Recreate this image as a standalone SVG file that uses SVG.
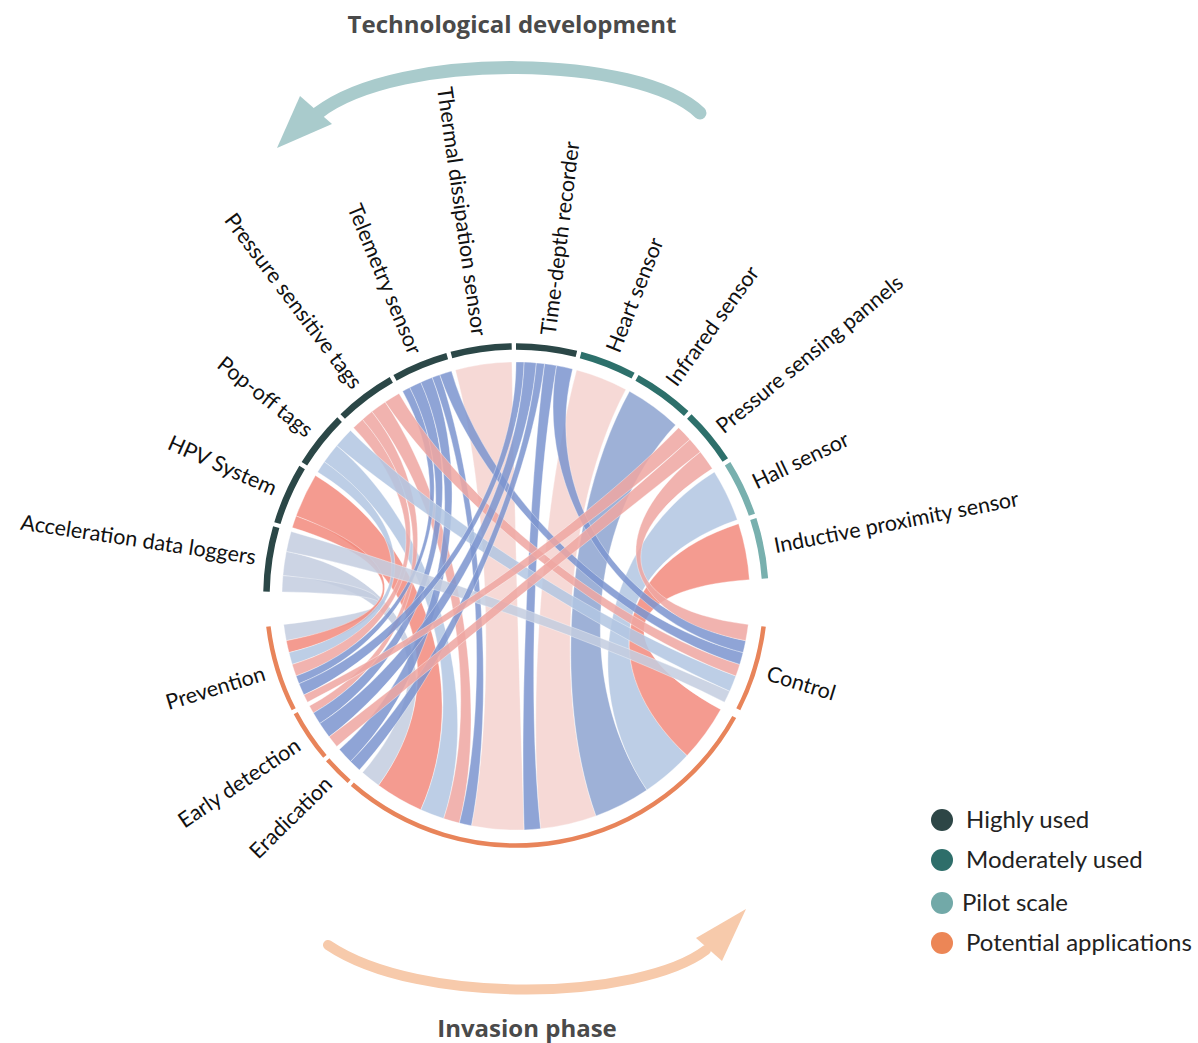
<svg xmlns="http://www.w3.org/2000/svg" width="1198" height="1043" viewBox="0 0 1198 1043">
<style>
.rib{stroke:#fff;stroke-width:0.6;stroke-opacity:0.6;fill-opacity:0.86}
.gr{fill:#c4cde0}.sa{fill:#f28b7e}.pk{fill:#efa7a2}.lb{fill:#b2c6e2}.bl{fill:#7d95cf}.st{fill:#8ea4d0}.lp{fill:#f4d3cf}
.ru{fill:none;stroke-width:6.5}
.hi{stroke:#2b4747}.mo{stroke:#2d706b}.pi{stroke:#78b0ae}
.rl{fill:none;stroke:#e8845a;stroke-width:4.5}
.lbl{font-family:Lato,"Open Sans",sans-serif;font-size:21.5px;fill:#111}
.leg{font-family:Lato,"Open Sans",sans-serif;font-size:24px;fill:#222}
.ttl{font-family:"Open Sans",Lato,sans-serif;font-size:24px;font-weight:700;fill:#4a4a4a}
</style>
<rect width="1198" height="1043" fill="#fff"/>
<g id="title-top"><text class="ttl" x="512" y="33" text-anchor="middle">Technological development</text></g>
<g id="arrow-top">
<path d="M700,113 C640,55 400,50 318,113" fill="none" stroke="#a9cbcc" stroke-width="13" stroke-linecap="round"/>
<polygon points="277,148 300,96 332,124" fill="#a9cbcc"/>
</g>
<g id="connectors">
<path class="rib lp" d="M455.4,370.0 A234,234 0 0 1 511.9,362.0 C514.2,490.7 519.7,701.2 524.2,829.9 A234,234 0 0 1 471.4,825.7 C495.9,699.4 488.7,494.3 455.4,370.0Z"/>
<path class="rib lp" d="M576.6,370.0 A234,234 0 0 1 625.9,389.4 C565.4,503.0 552.0,695.0 596.0,815.9 A234,234 0 0 1 540.5,828.7 C527.0,700.7 543.3,494.3 576.6,370.0Z"/>
<path class="rib st" d="M629.5,391.3 A234,234 0 0 1 675.6,424.9 C587.8,519.0 574.9,683.3 646.9,790.0 A234,234 0 0 1 596.0,815.9 C552.0,695.0 567.1,503.9 629.5,391.3Z"/>
<path class="rib lb" d="M714.4,472.0 A234,234 0 0 1 737.3,519.8 C615.6,561.7 593.0,667.8 687.1,755.6 A234,234 0 0 1 646.9,790.0 C574.9,683.3 605.3,540.2 714.4,472.0Z"/>
<path class="rib sa" d="M738.6,523.7 A234,234 0 0 1 749.4,579.7 C621.0,588.7 608.1,647.1 720.7,709.5 A234,234 0 0 1 687.1,755.6 C593.0,667.8 616.1,563.5 738.6,523.7Z"/>
<path class="rib sa" d="M296.1,516.0 A234,234 0 0 1 315.4,475.5 C425.7,541.8 473.2,692.2 420.8,809.8 A234,234 0 0 1 378.5,785.3 C454.1,681.2 417.0,560.0 296.1,516.0Z"/>
<path class="rib gr" d="M282.9,575.6 A234,234 0 0 1 286.3,551.4 C412.6,575.9 454.1,681.2 378.5,785.3 A234,234 0 0 1 362.5,772.6 C446.9,675.5 411.1,586.8 282.9,575.6Z"/>
<path class="rib lb" d="M324.3,461.8 A234,234 0 0 1 336.8,445.6 C435.3,528.3 483.5,696.1 443.7,818.6 A234,234 0 0 1 420.8,809.8 C473.2,692.2 429.7,535.6 324.3,461.8Z"/>
<path class="rib pk" d="M371.9,411.6 A234,234 0 0 1 385.2,402.0 C457.1,508.7 490.5,698.2 459.4,823.1 A234,234 0 0 1 443.7,818.6 C483.5,696.1 451.2,513.0 371.9,411.6Z"/>
<path class="rib bl" d="M432.1,377.5 A234,234 0 0 1 439.8,374.8 C481.7,496.4 495.9,699.4 471.4,825.7 A234,234 0 0 1 459.4,823.1 C490.5,698.2 478.3,497.7 432.1,377.5Z"/>
<path class="rib bl" d="M544.5,363.7 A234,234 0 0 1 556.6,365.6 C534.3,492.3 527.0,700.7 540.5,828.7 A234,234 0 0 1 524.2,829.9 C519.7,701.2 528.8,491.5 544.5,363.7Z"/>
<path class="rib gr" d="M282.0,591.9 A234,234 0 0 1 282.9,575.6 C411.1,586.8 412.6,616.1 286.3,640.7 A234,234 0 0 1 283.7,624.5 C411.5,608.8 410.7,594.2 282.0,591.9Z"/>
<path class="rib sa" d="M292.2,527.6 A234,234 0 0 1 296.1,516.0 C417.0,560.0 413.8,621.5 289.0,652.6 A234,234 0 0 1 286.3,640.7 C412.6,616.1 415.3,565.2 292.2,527.6Z"/>
<path class="rib lb" d="M317.6,472.0 A234,234 0 0 1 324.3,461.8 C429.7,535.6 415.3,626.8 292.2,664.4 A234,234 0 0 1 289.0,652.6 C413.8,621.5 426.7,540.2 317.6,472.0Z"/>
<path class="rib pk" d="M353.5,427.7 A234,234 0 0 1 362.5,419.4 C446.9,516.5 417.0,632.0 296.1,676.0 A234,234 0 0 1 292.2,664.4 C415.3,626.8 442.9,520.3 353.5,427.7Z"/>
<path class="rib pk" d="M362.5,419.4 A234,234 0 0 1 371.9,411.6 C451.2,513.0 424.8,648.7 313.4,713.0 A234,234 0 0 1 309.4,705.9 C423.0,645.4 446.9,516.5 362.5,419.4Z"/>
<path class="rib bl" d="M402.6,391.3 A234,234 0 0 1 409.8,387.5 C468.2,502.2 418.4,635.4 299.0,683.7 A234,234 0 0 1 296.1,676.0 C417.0,632.0 464.9,503.9 402.6,391.3Z"/>
<path class="rib bl" d="M409.8,387.5 A234,234 0 0 1 420.8,382.2 C473.2,499.8 427.7,653.4 319.8,723.5 A234,234 0 0 1 313.4,713.0 C424.8,648.7 468.2,502.2 409.8,387.5Z"/>
<path class="rib bl" d="M420.8,382.2 A234,234 0 0 1 432.1,377.5 C478.3,497.7 441.5,670.5 350.5,761.5 A234,234 0 0 1 339.4,749.5 C436.5,665.1 473.2,499.8 420.8,382.2Z"/>
<path class="rib gr" d="M286.3,551.4 A234,234 0 0 1 291.1,531.5 C414.8,567.0 612.2,638.8 729.8,691.2 A234,234 0 0 1 724.5,702.2 C609.8,643.8 412.6,575.9 286.3,551.4Z"/>
<path class="rib lb" d="M336.8,445.6 A234,234 0 0 1 350.5,430.5 C441.5,521.5 615.0,632.0 735.9,676.0 A234,234 0 0 1 729.8,691.2 C612.2,638.8 435.3,528.3 336.8,445.6Z"/>
<path class="rib pk" d="M385.2,402.0 A234,234 0 0 1 399.0,393.4 C463.4,504.8 616.7,626.8 739.8,664.4 A234,234 0 0 1 735.9,676.0 C615.0,632.0 457.1,508.7 385.2,402.0Z"/>
<path class="rib bl" d="M439.8,374.8 A234,234 0 0 1 451.5,371.1 C487.0,494.8 618.2,621.5 743.1,652.6 A234,234 0 0 1 739.8,664.4 C616.7,626.8 481.7,496.4 439.8,374.8Z"/>
<path class="rib bl" d="M516,362 A234,234 0 0 1 524.2,362.1 C519.7,490.8 420.6,640.5 303.9,694.9 A234,234 0 0 1 299.0,683.7 C418.4,635.4 516,490.7 516,362Z"/>
<path class="rib bl" d="M524.2,362.1 A234,234 0 0 1 536.4,362.9 C525.2,491.1 431.9,659.4 329.1,736.8 A234,234 0 0 1 319.8,723.5 C427.7,653.4 519.7,490.8 524.2,362.1Z"/>
<path class="rib bl" d="M536.4,362.9 A234,234 0 0 1 544.5,363.7 C528.8,491.5 445.5,674.3 359.4,769.9 A234,234 0 0 1 350.5,761.5 C441.5,670.5 525.2,491.1 536.4,362.9Z"/>
<path class="rib bl" d="M556.6,365.6 A234,234 0 0 1 572.6,369.0 C541.5,493.8 619.4,616.1 745.7,640.7 A234,234 0 0 1 743.1,652.6 C618.2,621.5 534.3,492.3 556.6,365.6Z"/>
<path class="rib pk" d="M678.6,427.7 A234,234 0 0 1 689.9,439.4 C594.3,525.5 422.2,643.8 307.5,702.2 A234,234 0 0 1 303.9,694.9 C420.6,640.5 589.1,520.3 678.6,427.7Z"/>
<path class="rib pk" d="M689.9,439.4 A234,234 0 0 1 700.4,451.9 C599.0,531.2 435.3,663.7 336.8,746.4 A234,234 0 0 1 329.1,736.8 C431.9,659.4 594.3,525.5 689.9,439.4Z"/>
<path class="rib pk" d="M700.4,451.9 A234,234 0 0 1 712.3,468.6 C604.3,538.6 620.5,608.8 748.3,624.5 A234,234 0 0 1 745.7,640.7 C619.4,616.1 599.0,531.2 700.4,451.9Z"/>
</g>
<g id="node-acceleration"><path class="ru hi" d="M266.5,591.6 A249.5,249.5 0 0 1 276.2,527.2"/><text class="lbl" transform="translate(255.9,557.1) rotate(8.5)" text-anchor="end" dy=".35em">Acceleration data loggers</text></g>
<g id="node-hpv"><path class="ru hi" d="M277.4,523.1 A249.5,249.5 0 0 1 302.1,467.5"/><text class="lbl" transform="translate(275.7,489.0) rotate(24)" text-anchor="end" dy=".35em">HPV System</text></g>
<g id="node-popoff"><path class="ru hi" d="M304.4,463.8 A249.5,249.5 0 0 1 339.6,419.6"/><text class="lbl" transform="translate(310.2,432.3) rotate(38.5)" text-anchor="end" dy=".35em">Pop-off tags</text></g>
<g id="node-pressure-tags"><path class="ru hi" d="M342.7,416.5 A249.5,249.5 0 0 1 391.3,379.9"/><text class="lbl" transform="translate(357.7,386.0) rotate(53)" text-anchor="end" dy=".35em">Pressure sensitive tags</text></g>
<g id="node-telemetry"><path class="ru hi" d="M395.0,377.8 A249.5,249.5 0 0 1 447.2,356.2"/><text class="lbl" transform="translate(415.4,353.0) rotate(67.5)" text-anchor="end" dy=".35em">Telemetry sensor</text></g>
<g id="node-thermal"><path class="ru hi" d="M451.4,355.0 A249.5,249.5 0 0 1 511.7,346.5"/><text class="lbl" transform="translate(479.4,335.6) rotate(82)" text-anchor="end" dy=".35em">Thermal dissipation sensor</text></g>
<g id="node-timedepth"><path class="ru hi" d="M516,346.5 A249.5,249.5 0 0 1 576.4,353.9"/><text class="lbl" transform="translate(548.1,335.0) rotate(-83)" dy=".35em">Time-depth recorder</text></g>
<g id="node-heart"><path class="ru mo" d="M580.6,355.0 A249.5,249.5 0 0 1 633.1,375.7"/><text class="lbl" transform="translate(612.4,351.3) rotate(-68.5)" dy=".35em">Heart sensor</text></g>
<g id="node-infrared"><path class="ru mo" d="M637.0,377.8 A249.5,249.5 0 0 1 686.2,413.5"/><text class="lbl" transform="translate(670.6,383.2) rotate(-54)" dy=".35em">Infrared sensor</text></g>
<g id="node-pressure-panels"><path class="ru mo" d="M689.3,416.5 A249.5,249.5 0 0 1 725.3,460.1"/><text class="lbl" transform="translate(718.9,428.7) rotate(-39.5)" dy=".35em">Pressure sensing pannels</text></g>
<g id="node-hall"><path class="ru pi" d="M727.6,463.8 A249.5,249.5 0 0 1 751.9,514.8"/><text class="lbl" transform="translate(753.4,482.8) rotate(-25.5)" dy=".35em">Hall sensor</text></g>
<g id="node-inductive"><path class="ru pi" d="M753.3,518.9 A249.5,249.5 0 0 1 764.9,578.6"/><text class="lbl" transform="translate(774.2,545.8) rotate(-11)" dy=".35em">Inductive proximity sensor</text></g>
<g id="node-control"><path class="rl" d="M763.6,626.4 A249.5,249.5 0 0 1 738.3,709.3"/><text class="lbl" transform="translate(767.5,672.9) rotate(17)" dy=".35em">Control</text></g>
<g id="node-bottom-arc"><path class="rl" d="M734.2,717.0 A249.5,249.5 0 0 1 352.3,784.3"/></g>
<g id="node-eradication"><path class="rl" d="M349.1,781.4 A249.5,249.5 0 0 1 327.7,759.7"/><text class="lbl" transform="translate(328.4,780.3) rotate(-44.5)" text-anchor="end" dy=".35em">Eradication</text></g>
<g id="node-early-detection"><path class="rl" d="M324.9,756.4 A249.5,249.5 0 0 1 295.7,713.1"/><text class="lbl" transform="translate(298.0,743.1) rotate(-34)" text-anchor="end" dy=".35em">Early detection</text></g>
<g id="node-prevention"><path class="rl" d="M293.7,709.3 A249.5,249.5 0 0 1 268.4,626.4"/><text class="lbl" transform="translate(264.5,672.9) rotate(-17)" text-anchor="end" dy=".35em">Prevention</text></g>
<g id="arrow-bottom">
<path d="M328,945 C420,1007 640,1000 706,950" fill="none" stroke="#f7caab" stroke-width="10" stroke-linecap="round"/>
<polygon points="746,909 696,938 722,961" fill="#f7caab"/>
</g>
<g id="title-bottom"><text class="ttl" x="527" y="1037" text-anchor="middle">Invasion phase</text></g>
<g id="legend">
<circle cx="942" cy="820" r="11" fill="#2d4646"/><text class="leg" x="966" y="828">Highly used</text>
<circle cx="942" cy="860" r="11" fill="#2e6e6a"/><text class="leg" x="966" y="868">Moderately used</text>
<circle cx="942" cy="903" r="11" fill="#72a9a8"/><text class="leg" x="962" y="911">Pilot scale</text>
<circle cx="942" cy="943" r="11" fill="#ec8656"/><text class="leg" x="966" y="951">Potential applications</text>
</g>
</svg>
